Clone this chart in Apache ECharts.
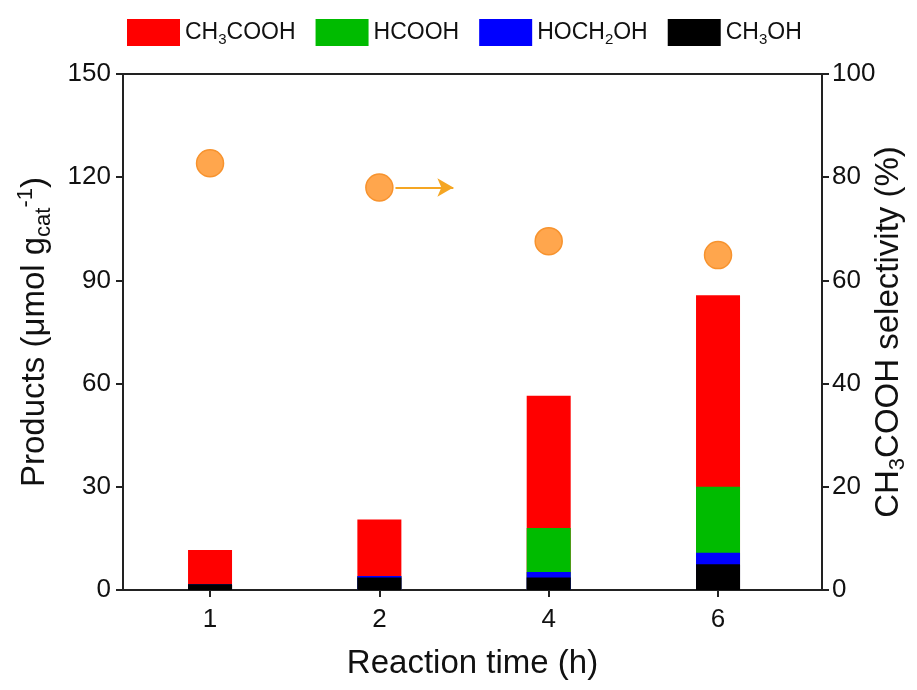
<!DOCTYPE html>
<html><head><meta charset="utf-8">
<script src="https://cdn.jsdelivr.net/npm/echarts@6/dist/echarts.min.js"></script>
<style>html,body{margin:0;padding:0;background:#fff}#c{width:917px;height:690px}</style>
</head><body><div id="c"></div>
<script>
const categories = ['1', '2', '4', '6'];
const ch3oh = [1.7, 3.6, 3.6, 7.5];
const hoch2oh = [0, 0.5, 1.6, 3.3];
const hcooh = [0, 0, 12.8, 19.2];
const ch3cooh = [9.9, 16.4, 38.5, 55.7];
const selectivity = [82.7, 78.0, 67.6, 64.9];

const pos = categories.map((c, i) => i + 1);
const pairs = arr => arr.map((v, i) => [pos[i], v]);
// cumulative tops (stack order: CH3OH, HOCH2OH, HCOOH, CH3COOH)
const cum1 = ch3oh.slice();
const cum2 = cum1.map((v, i) => v + hoch2oh[i]);
const cum3 = cum2.map((v, i) => v + hcooh[i]);
const cum4 = cum3.map((v, i) => v + ch3cooh[i]);

const font = 'Liberation Sans, Arial, sans-serif';
const chart = echarts.init(document.getElementById('c'));
const legendNames = {
  'CH3COOH': '{t|CH}{s|3}{t|COOH}',
  'HCOOH': '{t|HCOOH}',
  'HOCH2OH': '{t|HOCH}{s|2}{t|OH}',
  'CH3OH': '{t|CH}{s|3}{t|OH}'
};
const axisCommon = {
  axisLine: {show: true, lineStyle: {color: '#222', width: 2}},
  axisTick: {show: true, inside: false, length: 7, lineStyle: {color: '#222', width: 2}},
  splitLine: {show: false},
  axisLabel: {color: '#111', fontSize: 26, fontFamily: font}
};
const barSeries = (name, data, color, z) => ({
  name, type: 'bar', barWidth: 44, barGap: '-100%', data: pairs(data),
  itemStyle: {color}, xAxisIndex: 0, yAxisIndex: 0, z
});
chart.setOption({
  animation: false,
  textStyle: {fontFamily: font},
  grid: {left: 123, right: 95, top: 74, bottom: 100, containLabel: false, outerBoundsMode: 'none',
         show: true, borderColor: '#222', borderWidth: 2},
  legend: {
    top: 14, left: 122, icon: 'rect', itemWidth: 53, itemHeight: 27, itemGap: 20,
    data: ['CH3COOH', 'HCOOH', 'HOCH2OH', 'CH3OH'],
    formatter: n => legendNames[n],
    textStyle: {
      color: '#111',
      rich: {
        t: {fontSize: 23, fontFamily: font, lineHeight: 30, verticalAlign: 'middle', color: '#111'},
        s: {fontSize: 15, fontFamily: font, lineHeight: 12, verticalAlign: 'bottom', color: '#111'}
      }
    }
  },
  xAxis: [{
    type: 'value', min: 0.486, max: 4.614,
    ...axisCommon,
    axisTick: {...axisCommon.axisTick, customValues: pos},
    axisLabel: {...axisCommon.axisLabel, margin: 17, customValues: pos, formatter: v => categories[Math.round(v) - 1]},
    name: 'Reaction time (h)', nameLocation: 'middle', nameGap: 57, nameMoveOverlap: false,
    nameTextStyle: {fontSize: 33, color: '#111', fontFamily: font}
  }],
  yAxis: [{
    type: 'value', min: 0, max: 150, interval: 30, position: 'left',
    ...axisCommon,
    axisLabel: {...axisCommon.axisLabel, margin: 12},
    name: '{a|Products (μmol g}{s|cat}{p|-1}{a|)}', nameLocation: 'middle', nameRotate: 90, nameGap: 68,
    nameTextStyle: {
      color: '#111',
      rich: {
        a: {fontSize: 33, fontFamily: font, lineHeight: 40, verticalAlign: 'middle', color: '#111'},
        s: {fontSize: 22, fontFamily: font, lineHeight: 14, verticalAlign: 'bottom', color: '#111'},
        p: {fontSize: 22, fontFamily: font, lineHeight: 14, verticalAlign: 'top', color: '#111'}
      }
    }
  }, {
    type: 'value', min: 0, max: 100, interval: 20, position: 'right',
    ...axisCommon,
    axisLabel: {...axisCommon.axisLabel, margin: 10},
    name: '{a|CH}{s|3}{a|COOH selectivity (%)}', nameLocation: 'middle', nameRotate: 90, nameGap: 47,
    nameMoveOverlap: false,
    nameTextStyle: {
      color: '#111',
      rich: {
        a: {fontSize: 33, fontFamily: font, lineHeight: 40, verticalAlign: 'middle', color: '#111'},
        s: {fontSize: 22, fontFamily: font, lineHeight: 14, verticalAlign: 'bottom', color: '#111'}
      }
    }
  }],
  series: [
    barSeries('CH3COOH', cum4, '#FF0000', 2),
    barSeries('HCOOH', cum3, '#00BB00', 3),
    barSeries('HOCH2OH', cum2, '#0000FF', 4),
    barSeries('CH3OH', cum1, '#000000', 5),
    {
      name: 'sel', type: 'scatter', xAxisIndex: 0, yAxisIndex: 1, data: pairs(selectivity),
      symbolSize: 27, z: 6,
      itemStyle: {color: '#FFA64D', borderColor: '#F7932E', borderWidth: 1.5, opacity: 1},
      markLine: {
        silent: true, symbol: ['none', 'arrow'], symbolSize: [14, 16],
        label: {show: false},
        lineStyle: {color: '#F5A623', width: 2, type: 'solid'},
        data: [[{coord: [2.095, 78.0]}, {coord: [2.437, 78.0]}]]
      }
    }
  ]
});
</script></body></html>
